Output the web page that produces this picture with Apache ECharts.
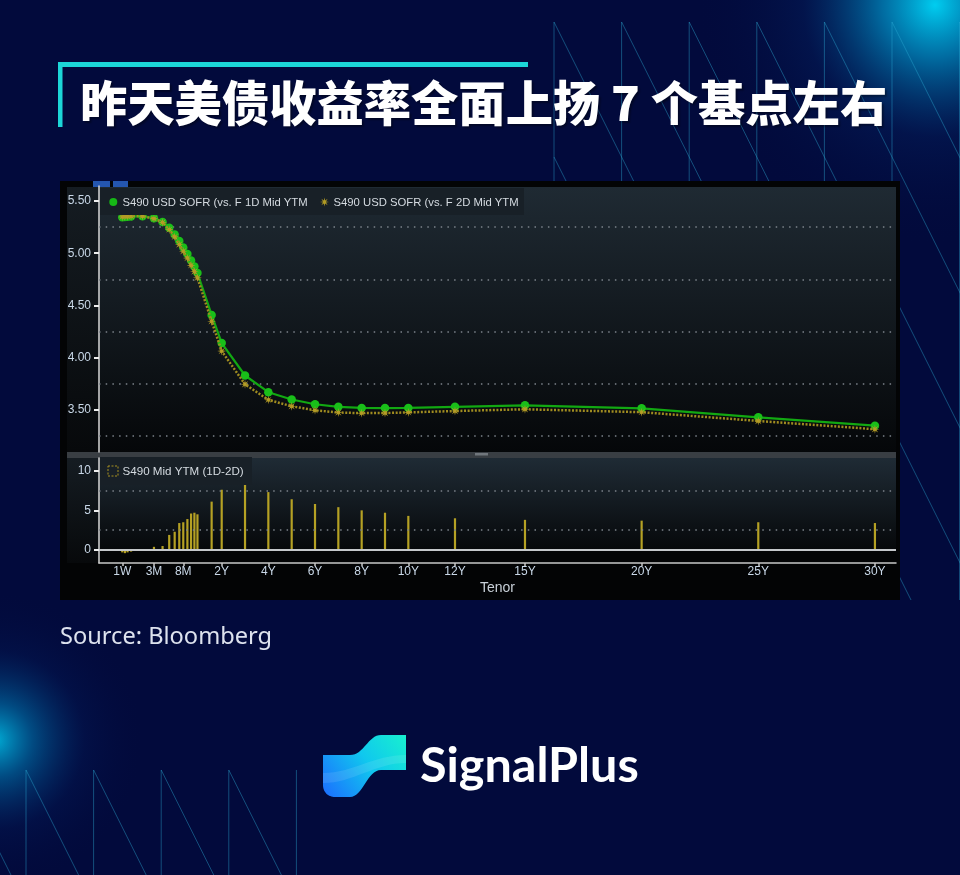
<!DOCTYPE html>
<html><head><meta charset="utf-8">
<script src="https://cdn.jsdelivr.net/npm/echarts@6/dist/echarts.min.js"></script>
<style>html,body{margin:0;padding:0;background:#020a3c;} #c{width:960px;height:875px;}</style>
</head><body><div id="c"></div>
<script>
// ---------------- data ----------------
const tenors = ['1W','2W','3W','1M','2M','3M','4M','5M','6M','7M','8M','9M','10M','11M','12M','18M','2Y','3Y','4Y','5Y','6Y','7Y','8Y','9Y','10Y','12Y','15Y','20Y','25Y','30Y'];
const tenorYears = [1/52,2/52,3/52,1/12,2/12,3/12,4/12,5/12,6/12,7/12,8/12,9/12,10/12,11/12,1,1.5,2,3,4,5,6,7,8,9,10,12,15,20,25,30];
const yield1D = [5.345,5.348,5.350,5.352,5.355,5.335,5.300,5.245,5.180,5.118,5.054,4.993,4.930,4.872,4.810,4.410,4.140,3.830,3.670,3.600,3.555,3.530,3.520,3.518,3.520,3.530,3.545,3.516,3.430,3.350];
const yield2D = [5.348,5.352,5.353,5.354,5.355,5.331,5.295,5.226,5.157,5.084,5.019,4.954,4.884,4.825,4.765,4.349,4.064,3.746,3.597,3.536,3.497,3.476,3.470,3.471,3.477,3.490,3.507,3.479,3.395,3.316];
const change1D2D = [-0.3,-0.4,-0.3,-0.2,0.0,0.4,0.5,1.9,2.3,3.4,3.5,3.9,4.6,4.7,4.5,6.1,7.6,8.4,7.3,6.4,5.8,5.4,5.0,4.7,4.3,4.0,3.8,3.7,3.5,3.4];
const axisTickLabels = ['1W','3M','8M','2Y','4Y','6Y','8Y','10Y','12Y','15Y','20Y','25Y','30Y'];
const axisTickYears = [1/52,0.25,8/12,2,4,6,8,10,12,15,20,25,30];
const yieldTicks = [3.5,4.0,4.5,5.0,5.5];
const yieldGrid = [3.25,3.75,4.25,4.75,5.25];
const changeTicks = [0,5,10];
const changeGrid = [2.5,7.5];
const titleText = '昨天美债收益率全面上扬 7 个基点左右';
const legend1 = 'S490 USD SOFR (vs. F 1D Mid YTM';
const legend2 = 'S490 USD SOFR (vs. F 2D Mid YTM';
const legend3 = 'S490 Mid YTM (1D-2D)';

// Bloomberg tenor scale: linear in years beyond 2Y, stretched short end
const shortAnchorYears = [1/52, 0.25, 8/12, 2];
const shortAnchorPos = [-2.262, -0.903, 0.353, 2];
function tenorPos(y) {
  if (y >= 2) return y;
  const A = shortAnchorYears, P = shortAnchorPos;
  let i = 0; while (i < A.length - 2 && y > A[i + 1]) i++;
  if (i === 0) return P[0] + (P[1] - P[0]) * (y - A[0]) / (A[1] - A[0]);
  return P[i] + (P[i + 1] - P[i]) * Math.log(y / A[i]) / Math.log(A[i + 1] / A[i]);
}
const U_MIN = -3.259, U_MAX = 30.903;
const tickPos = axisTickYears.map(tenorPos);

function starPoints(cx, cy, R, rIn, n) {
  const pts = [];
  for (let i = 0; i < 2 * n; i++) {
    const a = Math.PI * i / n, r = i % 2 === 0 ? R : rIn;
    pts.push([cx + Math.sin(a) * r, cy - Math.cos(a) * r]);
  }
  return pts;
}
const starSymbol = 'path://M' + starPoints(10, 10, 10, 3.4, 8).map(p => p[0].toFixed(2) + ' ' + p[1].toFixed(2)).join(' L') + ' Z';

// sample a simple M/L/C outline into polygon points (for the logo shape)
function outline(ox, oy, cmds) {
  const pts = []; let cx = 0, cy = 0;
  cmds.forEach(c => {
    if (c[0] === 'M' || c[0] === 'L') { cx = c[1]; cy = c[2]; pts.push([ox + cx, oy + cy]); }
    else if (c[0] === 'C') {
      const [, x1, y1, x2, y2, x, y] = c;
      for (let s = 1; s <= 16; s++) {
        const t = s / 16, u = 1 - t;
        pts.push([ox + u*u*u*cx + 3*u*u*t*x1 + 3*u*t*t*x2 + t*t*t*x,
                  oy + u*u*u*cy + 3*u*u*t*y1 + 3*u*t*t*y2 + t*t*t*y]);
      }
      cx = x; cy = y;
    }
  });
  return pts;
}

const chart = echarts.init(document.getElementById('c'), null, {renderer: 'canvas'});
const LBL = '"Liberation Sans", Arial, sans-serif';
const lblColor = '#c9d8e8';

// ---------------- decorations ----------------
const G = [];
G.push({type:'circle', z:-30, shape:{cx:935, cy:5, r:240}, style:{fill:{type:'radial', x:0.5, y:0.5, r:0.5, colorStops:[{offset:0,color:'rgba(0,205,240,1)'},{offset:0.22,color:'rgba(0,160,215,0.65)'},{offset:0.55,color:'rgba(4,45,115,0.28)'},{offset:1,color:'rgba(2,10,60,0)'}]}}});
G.push({type:'circle', z:-30, shape:{cx:-5, cy:740, r:150}, style:{fill:{type:'radial', x:0.5, y:0.5, r:0.5, colorStops:[{offset:0,color:'rgba(0,190,230,0.9)'},{offset:0.25,color:'rgba(0,140,200,0.5)'},{offset:0.6,color:'rgba(4,40,110,0.2)'},{offset:1,color:'rgba(2,10,60,0)'}]}}});
const latStyle = {stroke:'rgba(45,175,215,0.42)', lineWidth:1};
// top-right lattice (kept above y = 600)
for (let i = 0; i < 7; i++) {
  const x = 554 + i * 67.6;
  G.push({type:'line', z:-25, shape:{x1:x, y1:22, x2:x, y2:600}, style:latStyle});
  for (let k = 0; k < 5; k++) {
    let y1 = 22 + k*135, y2 = 157 + k*135, x2 = x + 67.6;
    if (y2 > 600) { x2 = x + 67.6 * (600 - y1) / 135; y2 = 600; }
    G.push({type:'line', z:-25, shape:{x1:x, y1:y1, x2:x2, y2:y2}, style:latStyle});
  }
}
// bottom-left lattice
for (let i = 0; i < 5; i++) {
  const x = 26 + i * 67.6;
  G.push({type:'line', z:-25, shape:{x1:x, y1:770, x2:x, y2:875}, style:latStyle});
  G.push({type:'line', z:-25, shape:{x1:x - 67.6, y1:770, x2:x, y2:905}, style:latStyle});
}
// title bracket + title
G.push({type:'rect', z:-5, shape:{x:58, y:62, width:470, height:5}, style:{fill:'#1cd6d8'}});
G.push({type:'rect', z:-5, shape:{x:58, y:62, width:4.5, height:65}, style:{fill:'#1cd6d8'}});
G.push({type:'text', z:-5, x:80, y:103, style:{text:titleText, fill:'#ffffff', font:'900 47.3px "Noto Sans CJK SC", sans-serif', verticalAlign:'middle', textShadowColor:'rgba(0,0,0,0.35)', textShadowOffsetX:2, textShadowOffsetY:2, textShadowBlur:2}});
// source
G.push({type:'text', z:-5, x:60, y:637, style:{text:'Source: Bloomberg', fill:'#dde2ee', font:'23.6px "Noto Sans", "Open Sans", sans-serif', verticalAlign:'middle'}});
// logo
G.push({type:'polygon', z:-5, shape:{points:outline(323, 733, [['M',0,22],['L',27,22],['C',41,22,45,2,58,2],['L',83,2],['L',83,37],['L',58,37],['C',44,37,40,64,27,64],['L',12,64],['C',5,64,0,59,0,52]])},
  style:{fill:{type:'linear', x:0, y:1, x2:1, y2:0, colorStops:[{offset:0,color:'#1c6cff'},{offset:0.55,color:'#10c8ee'},{offset:1,color:'#18f0cf'}]}}});
G.push({type:'polygon', z:-4, shape:{points:outline(323, 733, [['M',0,40],['C',30,40,50,22,83,22],['L',83,30],['C',52,30,30,50,0,50]])}, style:{fill:'rgba(255,255,255,0.10)'}});
G.push({type:'text', z:-5, x:420, y:766, style:{text:'SignalPlus', fill:'#ffffff', font:'bold 48.5px Lato, "Noto Sans", sans-serif', verticalAlign:'middle'}});

// Bloomberg panel
G.push({type:'rect', z:-10, shape:{x:60, y:181, width:840, height:419}, style:{fill:'#030405'}});
G.push({type:'rect', z:-9, shape:{x:93, y:181, width:17, height:6}, style:{fill:'#2456b0'}});
G.push({type:'rect', z:-9, shape:{x:113, y:181, width:15, height:6}, style:{fill:'#2456b0'}});
const vgrad = (a, b) => ({type:'linear', x:0, y:0, x2:0, y2:1, colorStops:[{offset:0,color:a},{offset:1,color:b}]});
G.push({type:'rect', z:-9, shape:{x:67, y:187, width:32, height:265}, style:{fill:vgrad('#151c22','#07090b')}});
G.push({type:'rect', z:-9, shape:{x:99, y:187, width:797, height:265}, style:{fill:vgrad('#1f2a33','#050709')}});
G.push({type:'rect', z:-9, shape:{x:67, y:452, width:829, height:6}, style:{fill:'#393e43'}});
G.push({type:'rect', z:-8, shape:{x:475, y:453, width:13, height:2.5}, style:{fill:'#70767c'}});
G.push({type:'rect', z:-9, shape:{x:67, y:458, width:32, height:105}, style:{fill:vgrad('#151c22','#07090b')}});
G.push({type:'rect', z:-9, shape:{x:99, y:458, width:797, height:92}, style:{fill:vgrad('#1f2b35','#06080a')}});
G.push({type:'text', z:-5, x:497.5, y:588, style:{text:'Tenor', fill:'#c8d0d8', font:'14px ' + LBL, align:'center', verticalAlign:'middle'}});

// legends (drawn over plot)
G.push({type:'rect', z:20, shape:{x:100, y:188, width:424, height:27}, style:{fill:'#182027'}});
G.push({type:'circle', z:21, shape:{cx:113.3, cy:202, r:4}, style:{fill:'#16b816'}});
G.push({type:'text', z:21, x:122.5, y:202.5, style:{text:legend1, fill:'#d5dbe1', font:'11.3px ' + LBL, verticalAlign:'middle'}});
G.push({type:'polygon', z:21, shape:{points:starPoints(324.5, 202, 4.5, 1.6, 8)}, style:{fill:'#b09a24'}});
G.push({type:'text', z:21, x:333.5, y:202.5, style:{text:legend2, fill:'#d5dbe1', font:'11.3px ' + LBL, verticalAlign:'middle'}});
G.push({type:'rect', z:20, shape:{x:100, y:457, width:152, height:28}, style:{fill:'#182027'}});
G.push({type:'rect', z:21, shape:{x:108, y:466, width:10, height:10}, style:{fill:'none', stroke:'#a89222', lineWidth:1, lineDash:[2,1.5]}});
G.push({type:'text', z:21, x:122.5, y:471.5, style:{text:legend3, fill:'#d5dbe1', font:'11.6px ' + LBL, verticalAlign:'middle'}});

const gridDots = {color:'#7c838b', type:[1.5,5.2], width:1.5};
const option = {
  backgroundColor: '#020a3c',
  animation: false,
  graphic: {elements: G},
  grid: [
    {left:99, top:186, width:797, height:266},
    {left:99, top:458, width:797, height:105}
  ],
  xAxis: [
    {gridIndex:0, type:'value', min:U_MIN, max:U_MAX, show:false},
    {gridIndex:1, type:'value', min:U_MIN, max:U_MAX,
      axisLine:{show:true, onZero:false, lineStyle:{color:'#c8c8c8', width:1.5}},
      axisTick:{show:true, customValues:tickPos, length:3, lineStyle:{color:'#c8c8c8', width:1.5}},
      axisLabel:{customValues:tickPos, margin:3, color:lblColor, fontSize:12, fontFamily:LBL,
        formatter:(v) => { const i = tickPos.findIndex(p => Math.abs(p - v) < 1e-3); return i >= 0 ? axisTickLabels[i] : ''; }},
      splitLine:{show:false}}
  ],
  yAxis: [
    {gridIndex:0, type:'value', min:3.098, max:5.6435,
      axisLine:{show:true, onZero:false, lineStyle:{color:'#d8d8d8', width:1.5}},
      axisTick:{show:true, customValues:yieldTicks, length:5, lineStyle:{color:'#eeeeee', width:2}},
      axisLabel:{customValues:yieldTicks, margin:8, color:lblColor, fontSize:12, fontFamily:LBL, formatter:(v) => v.toFixed(2)},
      splitLine:{show:false}},
    {gridIndex:1, type:'value', min:-1.64, max:11.6,
      axisLine:{show:true, onZero:false, lineStyle:{color:'#d8d8d8', width:1.5}},
      axisTick:{show:true, customValues:changeTicks, length:5, lineStyle:{color:'#eeeeee', width:2}},
      axisLabel:{customValues:changeTicks, margin:8, color:lblColor, fontSize:12, fontFamily:LBL, formatter:(v) => String(v)},
      splitLine:{show:false}}
  ],
  series: [
    {name:legend1, type:'line', xAxisIndex:0, yAxisIndex:0, z:3,
      data: tenorYears.map((t, i) => [tenorPos(t), yield1D[i]]),
      symbol:'circle', symbolSize:8.5, itemStyle:{color:'#19bf19'},
      lineStyle:{color:'#12a812', width:2.2},
      markLine:{silent:true, symbol:['none','none'], label:{show:false}, lineStyle:gridDots, z:1,
        data: yieldGrid.map(v => ({yAxis:v}))}},
    {name:legend2, type:'line', xAxisIndex:0, yAxisIndex:0, z:4,
      data: tenorYears.map((t, i) => [tenorPos(t), yield2D[i]]),
      symbol:starSymbol, symbolSize:9, itemStyle:{color:'#b49c26'},
      lineStyle:{color:'#a08c20', width:2.5, type:[2,1.6]}},
    {name:legend3, type:'bar', xAxisIndex:1, yAxisIndex:1, z:3, barWidth:2.2,
      data: tenorYears.map((t, i) => [tenorPos(t), change1D2D[i]]),
      itemStyle:{color:'#b5a124'},
      markLine:{silent:true, symbol:['none','none'], label:{show:false},
        data: [
          ...changeGrid.map(v => ({yAxis:v, lineStyle:gridDots})),
          {yAxis:0, lineStyle:{color:'#c4c7ca', width:2, type:'solid'}}
        ]}}
  ]
};
chart.setOption(option);
</script></body></html>
